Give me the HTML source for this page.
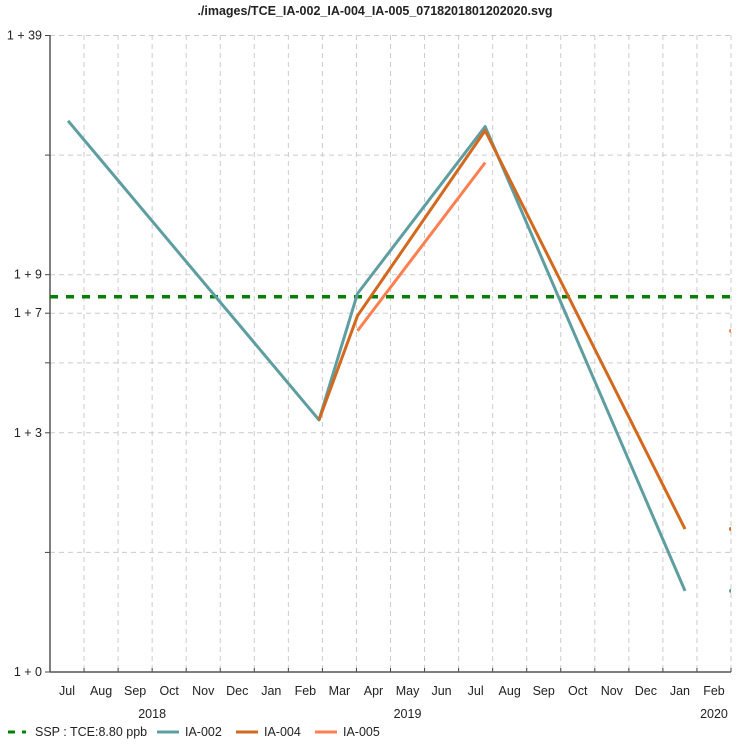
<!DOCTYPE html>
<html><head><meta charset="utf-8"><style>
html,body{margin:0;padding:0;background:#fff;}
svg text{font-family:"Liberation Sans",sans-serif;fill:#222;}
</style></head><body>
<svg id="chart" width="750" height="750" viewBox="0 0 750 750">
<text x="375" y="15" font-size="12.5" font-weight="bold" text-anchor="middle">./images/TCE_IA-002_IA-004_IA-005_0718201801202020.svg</text>
<defs><clipPath id="pc"><rect x="50" y="30" width="681" height="645"/></clipPath></defs>
<g id="grid"></g>
<g id="axes"></g>
<g id="series" clip-path="url(#pc)"></g>
<g id="legend"></g>
</svg>
<script>
// months since Jul 1 2018
const monthLabels=["Jul","Aug","Sep","Oct","Nov","Dec","Jan","Feb","Mar","Apr","May","Jun","Jul","Aug","Sep","Oct","Nov","Dec","Jan","Feb"];
const yearLabels=["2018","2019","2020"];
const yearPos=[3,10.5,19.5];
const yTickVals=[40,20,10,8,6,4,2,1];
const yTickLabels=["1 + 39","","1 + 9","1 + 7","","1 + 3","","1 + 0"];
const ia002X=[0.53,7.9,9.03,12.78,18.65];
const ia002Y=[24.4,4.31,8.96,23.6,1.6];
const ia004X=[7.9,9.03,12.78,18.65];
const ia004Y=[4.31,7.88,23.06,2.29];
const ia005X=[9.03,12.78];
const ia005Y=[7.22,19.15];
const edgeX=[20.0,20.0,20.0];
const edgeY=[1.6,2.29,7.22];
const edgeCol=['#5f9ea0','#d2691e','#ff7f50'];
const sspVal=8.8;

const NS="http://www.w3.org/2000/svg";
const X0=50,X1=731,YB=672,PPD=397.3;
function sx(m){return X0+m*(X1-X0)/20;}
function sy(v){return YB-Math.log10(v)*PPD;}
function mk(tag,attrs,parent){const e=document.createElementNS(NS,tag);for(const k in attrs)e.setAttribute(k,attrs[k]);parent.appendChild(e);return e;}
const grid=document.getElementById('grid'),axes=document.getElementById('axes'),ser=document.getElementById('series'),leg=document.getElementById('legend');
for(let i=1;i<=20;i++){
  const l=mk('line',{x1:sx(i),x2:sx(i),y1:35,y2:YB,stroke:'#ccc','stroke-dasharray':'5,4'},grid);
  
  
  mk('line',{x1:sx(i),x2:sx(i),y1:YB,y2:YB-4,stroke:'#444'},axes);
}
yTickVals.forEach((v,i)=>{
  const y=sy(v);
  if(v>1){const g=mk('line',{x1:X0,x2:X1,y1:y,y2:y,stroke:'#ccc','stroke-dasharray':'5,4'},grid);
  
  }
  mk('line',{x1:X0-5,x2:X0,y1:y,y2:y,stroke:'#444'},axes);
  if(yTickLabels[i]){const t=mk('text',{x:X0-8,y:y+4,'font-size':'12.5','text-anchor':'end'},axes);t.textContent=yTickLabels[i];
  
  }
});
mk('line',{x1:X0,x2:X0,y1:35,y2:YB,stroke:'#555','stroke-width':1.5},axes);
mk('line',{x1:X0,x2:X1,y1:YB,y2:YB,stroke:'#555','stroke-width':1.5},axes);
monthLabels.forEach((m,i)=>{const t=mk('text',{x:sx(i+0.5),y:695,'font-size':'12.5','text-anchor':'middle'},axes);t.textContent=m;
  
  });
yearLabels.forEach((yv,i)=>{const t=mk('text',{x:sx(yearPos[i]),y:718,'font-size':'12.5','text-anchor':'middle'},axes);t.textContent=yv;
  
  });
const ssp=mk('line',{x1:X0,x2:X1,y1:sy(sspVal),y2:sy(sspVal),stroke:'#008000','stroke-width':3.5,'stroke-dasharray':'8,8'},ser);


function line(xs,ys,col,name){const p=mk('polyline',{points:xs.map((x,i)=>sx(x)+','+sy(ys[i])).join(' '),fill:'none',stroke:col,'stroke-width':3,'stroke-linejoin':'round'},ser);
  
  }
line(ia002X,ia002Y,'#5f9ea0','series-ia-002');
line(ia004X,ia004Y,'#d2691e','series-ia-004');
line(ia005X,ia005Y,'#ff7f50','series-ia-005');
edgeX.forEach((x,i)=>{const c=mk('circle',{cx:sx(x),cy:sy(edgeY[i]),r:2,fill:edgeCol[i]},ser);
  
  });
const items=[["SSP : TCE:8.80 ppb","#008000",true,8],["IA-002","#5f9ea0",false,157],["IA-004","#d2691e",false,236],["IA-005","#ff7f50",false,315]];
items.forEach(it=>{
  const g=mk('g',{},leg);
  
  
  if(it[2]){mk('line',{x1:it[3],x2:it[3]+18,y1:732,y2:732,stroke:it[1],'stroke-width':3,'stroke-dasharray':'7,7'},g);}
  else mk('line',{x1:it[3],x2:it[3]+22,y1:732,y2:732,stroke:it[1],'stroke-width':3},g);
  const t=mk('text',{x:it[3]+(it[2]?27:28),y:736,'font-size':'12.5'},g);t.textContent=it[0];
});
</script>
</body></html>
